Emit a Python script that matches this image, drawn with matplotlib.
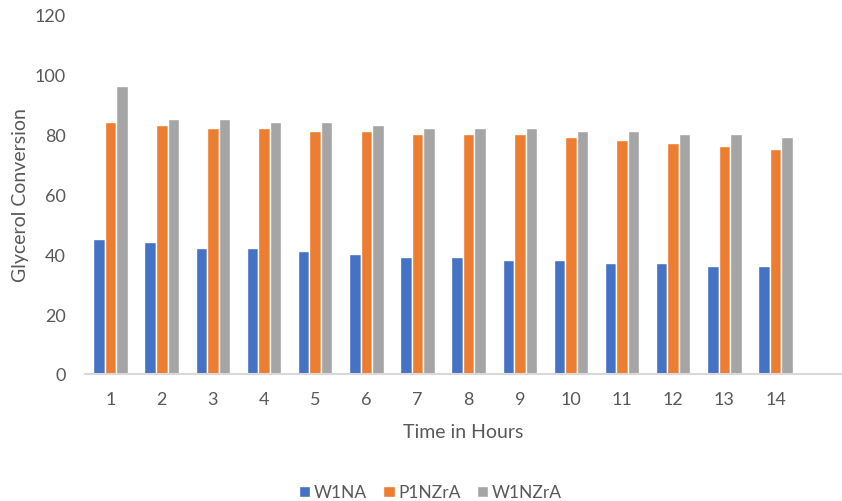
import numpy as np
import matplotlib
matplotlib.use("Agg")
import matplotlib.pyplot as plt

plt.rcParams['font.family'] = ['Lato', 'DejaVu Sans']

hours = [str(h) for h in range(1, 15)]
w1na = [45, 44, 42, 42, 41, 40, 39, 39, 38, 38, 37, 37, 36, 36]
p1nzra = [84, 83, 82, 82, 81, 81, 80, 80, 80, 79, 78, 77, 76, 75]
w1nzra = [96, 85, 85, 84, 84, 83, 82, 82, 82, 81, 81, 80, 80, 79]

series = [("W1NA", w1na, "#4472C4"),
          ("P1NZrA", p1nzra, "#ED7D31"),
          ("W1NZrA", w1nzra, "#A5A5A5")]

text_color = "#595959"

fig = plt.figure(figsize=(8.42, 5.02), dpi=100)
ax = fig.add_axes([0.101, 0.253, 0.899, 0.717])

x = np.arange(len(hours))
width = 0.225
for i, (name, vals, color) in enumerate(series):
    ax.bar(x + (i - 1) * width, vals, width, color=color,
           edgecolor="white", linewidth=1.0, label=name, zorder=2)

# one empty slot after the last hour, cut off by the figure edge
ax.set_xlim(-0.5, len(hours) + 0.3)
ax.set_ylim(0, 120)
ax.set_yticks(range(0, 121, 20))
ax.set_xticks(x)
ax.set_xticklabels(hours)

for side in ["top", "right", "left"]:
    ax.spines[side].set_visible(False)
ax.spines["bottom"].set_color("#D9D9D9")
ax.spines["bottom"].set_linewidth(1.5)

ax.tick_params(axis="both", length=0, labelsize=13, colors=text_color)
ax.tick_params(axis="y", pad=14)
ax.tick_params(axis="x", pad=12)

ax.set_xlabel("Time in Hours", fontsize=14, color=text_color, labelpad=12)
ax.set_ylabel("Glycerol Conversion", fontsize=14, color=text_color, labelpad=4)

fig.legend(loc="lower center", bbox_to_anchor=(0.511, -0.03), ncol=3,
           frameon=False, fontsize=12.5, handlelength=0.65, handleheight=0.65,
           handletextpad=0.2, columnspacing=0.95, labelcolor=text_color)

fig.savefig("out.png", dpi=100)
